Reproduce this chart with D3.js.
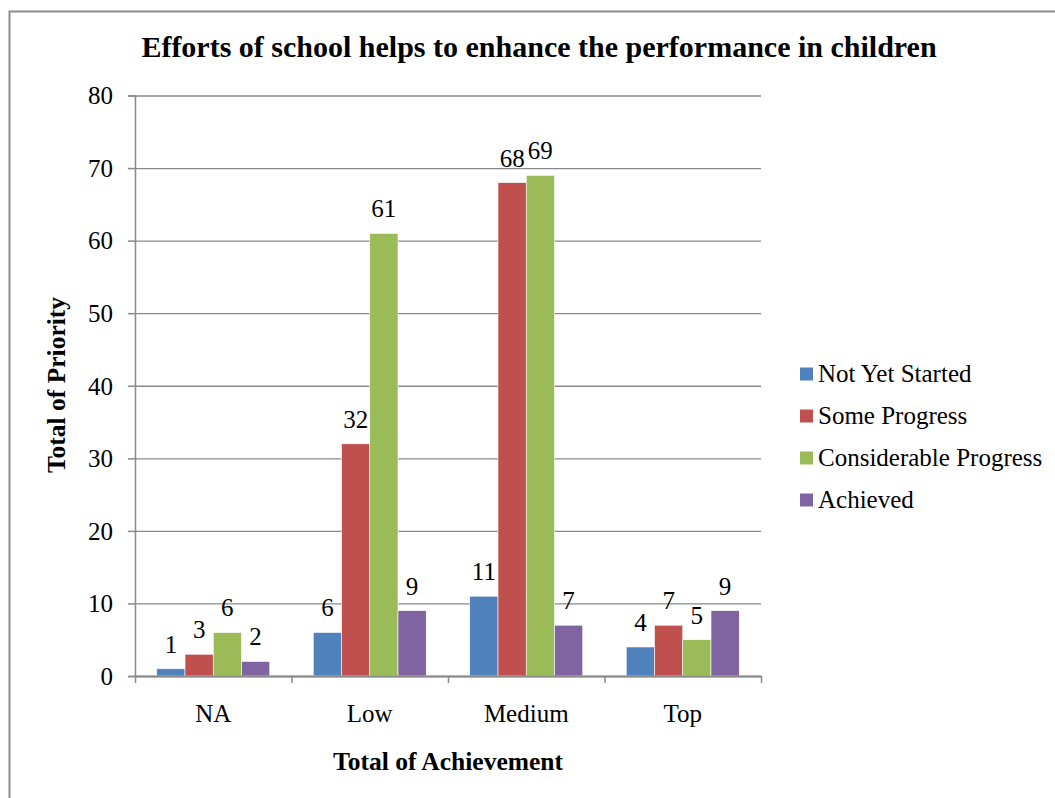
<!DOCTYPE html>
<html>
<head>
<meta charset="utf-8">
<script src="https://cdn.jsdelivr.net/npm/d3@7"></script>
<style>
  body { margin: 0; background: #fff; }
  text { font-family: "Liberation Serif", "Times New Roman", serif; fill: #000; }
</style>
</head>
<body>
<svg id="chart" width="1055" height="798"></svg>
<script>
var categories = ["NA", "Low", "Medium", "Top"];
var seriesNames = ["Not Yet Started", "Some Progress", "Considerable Progress", "Achieved"];
var notYetStarted = [1, 6, 11, 4];
var someProgress = [3, 32, 68, 7];
var considerableProgress = [6, 61, 69, 5];
var achieved = [2, 9, 7, 9];
var yTicks = [0, 10, 20, 30, 40, 50, 60, 70, 80];
var colors = ["#4F81BD", "#C0504D", "#9BBB59", "#8064A2"];

var seriesValues = [notYetStarted, someProgress, considerableProgress, achieved];

var svg = d3.select("#chart"),
    margin = {top: 95.5, left: 135, right: 294, bottom: 122},
    width = +svg.attr("width") - margin.left - margin.right,
    height = +svg.attr("height") - margin.top - margin.bottom,
    gridColor = "#898989",
    fontSize = 25;

// outer chart border (runs off the right and bottom edge)
svg.append("rect")
    .attr("x", 9.5).attr("y", 11.5)
    .attr("width", 1100).attr("height", 900)
    .attr("fill", "none").attr("stroke", "#8c8c8c").attr("stroke-width", 2);

svg.append("text")
    .attr("x", 539).attr("y", 57)
    .attr("text-anchor", "middle")
    .attr("font-size", 30).attr("font-weight", "bold")
    .text("Efforts of school helps to enhance the performance in children");

var g = svg.append("g").attr("transform", "translate(" + margin.left + "," + margin.top + ")");

var x0 = d3.scaleBand().domain(categories).range([0, width]);
var gap = x0.bandwidth() * 0.139;
var x1 = d3.scaleBand().domain(seriesNames).range([gap, x0.bandwidth() - gap]);
var y = d3.scaleLinear().domain([0, 80]).range([height, 0]);

// gridlines
g.append("g")
    .call(d3.axisLeft(y).tickValues(yTicks).tickSize(-width).tickFormat(""))
    .call(function(a) {
      a.select(".domain").remove();
      a.selectAll(".tick line").attr("stroke", gridColor).attr("stroke-width", 1.3);
    });

// y axis
g.append("g")
    .call(d3.axisLeft(y).tickValues(yTicks).tickSize(7).tickPadding(15))
    .call(function(a) {
      a.select(".domain").attr("stroke", gridColor).attr("stroke-width", 1.5);
      a.selectAll(".tick line").attr("stroke", gridColor).attr("stroke-width", 1.5);
      a.selectAll(".tick text").attr("font-size", fontSize).attr("font-family", "Liberation Serif").attr("dy", "0.33em");
    });

// bars
var groups = g.selectAll(".cat")
    .data(categories)
    .enter().append("g")
    .attr("transform", function(c) { return "translate(" + x0(c) + ",0)"; });

groups.selectAll("rect")
    .data(function(c, i) { return seriesNames.map(function(s, j) { return {s: s, j: j, v: seriesValues[j][i]}; }); })
    .enter().append("rect")
    .attr("x", function(d) { return x1(d.s); })
    .attr("width", x1.bandwidth())
    .attr("y", function(d) { return y(d.v); })
    .attr("height", function(d) { return height - y(d.v); })
    .attr("fill", function(d) { return colors[d.j]; })
    .attr("stroke", "#fff").attr("stroke-width", 0.6);

groups.selectAll(".lbl")
    .data(function(c, i) { return seriesNames.map(function(s, j) { return {s: s, j: j, v: seriesValues[j][i]}; }); })
    .enter().append("text")
    .attr("x", function(d) { return x1(d.s) + x1.bandwidth() / 2; })
    .attr("y", function(d) { return y(d.v) - 16; })
    .attr("text-anchor", "middle")
    .attr("font-size", fontSize)
    .text(function(d) { return d.v; });

// x axis
g.append("g")
    .attr("transform", "translate(0," + height + ")")
    .call(d3.axisBottom(x0).tickSize(0))
    .call(function(a) {
      a.select(".domain").attr("stroke", gridColor).attr("stroke-width", 2);
      a.selectAll(".tick text").attr("font-size", fontSize).attr("font-family", "Liberation Serif")
          .attr("y", 46).attr("dy", 0);
    });

// x tick marks between categories
g.append("g")
    .attr("transform", "translate(0," + height + ")")
    .call(d3.axisBottom(d3.scaleLinear().domain([0, 4]).range([0, width])).ticks(4).tickSize(7).tickFormat(""))
    .call(function(a) {
      a.select(".domain").remove();
      a.selectAll(".tick line").attr("stroke", gridColor).attr("stroke-width", 1.5);
    });

// axis titles
svg.append("text")
    .attr("transform", "translate(65,385) rotate(-90)")
    .attr("text-anchor", "middle")
    .attr("font-size", 25.5).attr("font-weight", "bold")
    .text("Total of Priority");

svg.append("text")
    .attr("x", 448).attr("y", 770)
    .attr("text-anchor", "middle")
    .attr("font-size", 25.5).attr("font-weight", "bold")
    .text("Total of Achievement");

// legend
var legend = svg.append("g").attr("transform", "translate(800,374)");
var items = legend.selectAll("g")
    .data(seriesNames)
    .enter().append("g")
    .attr("transform", function(d, i) { return "translate(0," + (i * 42) + ")"; });
items.append("rect")
    .attr("x", 0).attr("y", -6.5).attr("width", 13).attr("height", 13)
    .attr("fill", function(d, i) { return colors[i]; });
items.append("text")
    .attr("x", 18).attr("y", 8)
    .attr("font-size", fontSize)
    .text(function(d) { return d; });
</script>
</body>
</html>
